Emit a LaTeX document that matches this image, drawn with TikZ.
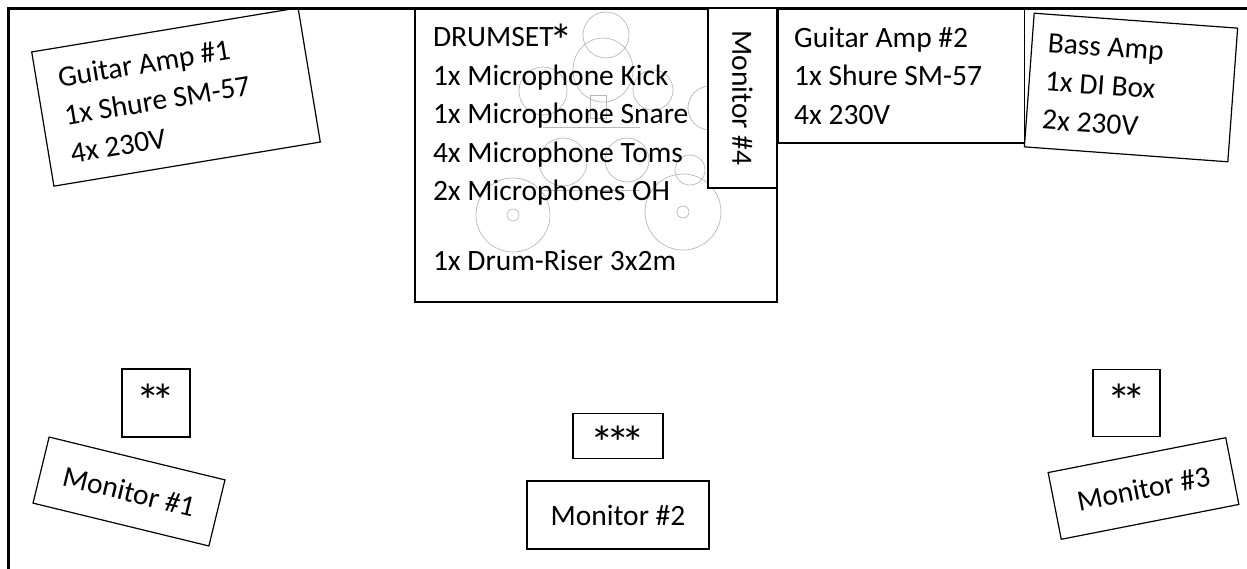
\documentclass[tikz,border=0pt]{standalone}
\usepackage{fontspec}
\setmainfont{Carlito}
\usetikzlibrary{positioning}
\newcommand{\stagestar}{\makebox[0.52em]{\raisebox{-0.36em}{\scalebox{1.6}{*}}}}

\begin{document}
\begin{tikzpicture}[
		x=1pt,
		y=1pt,
		font=\fontsize{29.5pt}{38.5pt}\selectfont,
	]
		\tikzset{stagebox/.style={
			draw,
			rectangle,
			line width=1.2,
			inner sep=0,
		}}
		\tikzset{listbox/.style={
			stagebox,
			align=left,
			inner xsep=16,
			execute at begin node={\spaceskip=0pt\xspaceskip=0pt},
		}}
		\tikzset{monitor/.style={
			stagebox,
			minimum width=181,
			minimum height=68,
		}}
		\tikzset{fillbox/.style={
			stagebox,
			text height=24,
			text depth=16,
		}}
		\tikzset{kit/.style={
			draw=gray!55,
			line width=0.7,
		}}

		\useasboundingbox (0,0) rectangle (1247,-568);
		\clip (0,0) rectangle (1247,-568);

		% drum kit seen from above
		\draw[kit] (606,-35) circle (23);
		\draw[kit] (603,-70) ellipse (30 and 32);
		\draw[kit] (543,-91) circle (24);
		\draw[kit] (653,-90) circle (20);
		\draw[kit] (590,-95) rectangle (606,-118);
		\draw[kit] (543,-127) -- (640,-127);
		\draw[kit] (563,-162) circle (24);
		\draw[kit] (627,-160) circle (22);
		\draw[kit] (690,-170) circle (15);
		\draw[kit] (543,-190) -- (640,-190);
		\draw[kit] (710,-108) circle (22);
		\draw[kit] (710,-108) circle (3);
		\draw[kit] (513,-215) circle (37);
		\draw[kit] (513,-215) circle (6);
		\draw[kit] (683,-212) circle (38);
		\draw[kit] (683,-212) circle (6);

		\draw[line width=2.5] (8.5,-8.5) rectangle (1300,-620);

		\node[
			listbox,
			inner xsep=18,
			text width=326pt,
			minimum height=294,
		] (drums) at (596,-155) {DRUMSET\stagestar\\1x Microphone Kick\\1x Microphone Snare\\4x Microphone Toms\\2x Microphones OH\\[31pt]1x Drum-Riser 3x2m\rule[-16pt]{0pt}{16pt}};

		\node[
			stagebox,
			fill=white,
			rotate=-90,
			anchor=north west,
			minimum width=180,
			minimum height=69,
		] (mon4) at (drums.north east) {Monitor \#4};

		\node[
			listbox,
			text width=214pt,
			minimum height=135,
			anchor=north west,
		] (amp2) at (drums.north east) {Guitar Amp \#2\\1x Shure SM-57\\4x 230V};

		\node[
			listbox,
			text width=172pt,
			minimum height=134,
			rotate=-4.2,
		] (bass) at (1131,-87.5) {Bass Amp\\1x DI Box\\2x 230V};

		\node[
			listbox,
			inner xsep=22,
			text width=226pt,
			minimum height=136,
			rotate=9.4,
		] (amp1) at (176,-97) {Guitar Amp \#1\\1x Shure SM-57\\4x 230V};

		\node[fillbox, minimum size=68] (fillL) at (156,-403) {\stagestar\stagestar};
		\node[fillbox, minimum size=67] (fillR) at (1126.5,-403) {\stagestar\stagestar};

		\node[monitor, rotate=-13.7] (mon1) at (129,-491.5) {Monitor \#1};
		\node[monitor, minimum width=182] (mon2) at (618,-515) {Monitor \#2};
		\node[monitor, rotate=11.1] (mon3) at (1143.5,-488.5) {Monitor \#3};

		\node[
			stagebox,
			minimum width=90,
			minimum height=45,
			text height=26,
			text depth=0,
			above=21 of mon2,
		] (drumfill) {\stagestar\stagestar\stagestar};
	\end{tikzpicture}
\end{document}
